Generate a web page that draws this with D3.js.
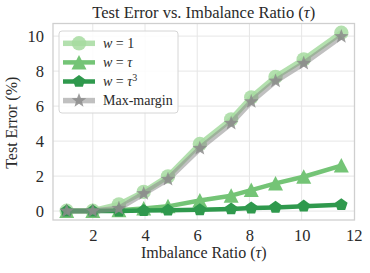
<!DOCTYPE html>
<html><head><meta charset="utf-8">
<script src="https://cdn.jsdelivr.net/npm/d3@7"></script>
<style>body{margin:0;background:#fff}svg{display:block}svg text{font-family:'Liberation Serif','DejaVu Serif',serif}</style>
</head><body><div id="chart"></div>
<script>
const tau = [1, 2, 3, 3.95, 4.88, 6.1, 7.3, 8.07, 9, 10.08, 11.52];
const errW1 = [0.02, 0.02, 0.38, 1.1, 1.98, 3.83, 5.24, 6.5, 7.67, 8.67, 10.19];
const errWTau = [0.0, 0.0, 0.05, 0.15, 0.27, 0.6, 0.88, 1.2, 1.58, 1.96, 2.6];
const errWTau3 = [0.0, 0.0, 0.0, 0.03, 0.05, 0.07, 0.12, 0.17, 0.21, 0.28, 0.36];
const errMaxMargin = [0.0, 0.0, 0.15, 1.0, 1.82, 3.58, 5.02, 6.25, 7.43, 8.44, 9.97];
const xTicks = [2, 4, 6, 8, 10, 12];
const yTicks = [0, 2, 4, 6, 8, 10];
const seriesNames = ["w1", "wtau", "wtau3", "mm"];

const FONT = "'Liberation Serif', 'DejaVu Serif', serif";
const W = 370, H = 273;
const svg = d3.select("#chart").append("svg").attr("width", W).attr("height", H)
  .style("font-family", FONT);

const L = 53, R = 354.5, T = 23.5, B = 220;
const x = d3.scaleLinear().domain([0.475, 12.025]).range([L, R]);
const y = d3.scaleLinear().domain([-0.51, 10.72]).range([B, T]);

// grid
const g = svg.append("g");
g.selectAll(".gx").data(xTicks.filter(t => x(t) < R - 1)).join("line")
  .attr("x1", d => x(d)).attr("x2", d => x(d)).attr("y1", T).attr("y2", B)
  .attr("stroke", "#e6e6e6").attr("stroke-width", 1);
g.selectAll(".gy").data(yTicks).join("line")
  .attr("x1", L).attr("x2", R).attr("y1", d => y(d)).attr("y2", d => y(d))
  .attr("stroke", "#e6e6e6").attr("stroke-width", 1);

// axes via d3 axis, styled without tick marks
const xAxis = svg.append("g").attr("transform", `translate(0,${B})`)
  .call(d3.axisBottom(x).tickValues(xTicks).tickSize(0).tickPadding(9).tickFormat(d3.format("d")))
  .attr("font-family", FONT).attr("font-size", 16.5);
xAxis.select(".domain").remove();
xAxis.selectAll("text").attr("fill", "#2a2a2a").style("font-family", FONT);
const yAxis = svg.append("g").attr("transform", `translate(${L},0)`)
  .call(d3.axisLeft(y).tickValues(yTicks).tickSize(0).tickPadding(9).tickFormat(d3.format("d")))
  .attr("font-family", FONT).attr("font-size", 16.5);
yAxis.select(".domain").remove();
yAxis.selectAll("text").attr("fill", "#2a2a2a").style("font-family", FONT);

// border
svg.append("rect").attr("x", L).attr("y", T).attr("width", R - L).attr("height", B - T)
  .attr("fill", "none").attr("stroke", "#cfcfcf").attr("stroke-width", 1.3);

// marker shapes
function poly(n, r, rot, inner) {
  const pts = [];
  const k = inner ? 2 * n : n;
  for (let i = 0; i < k; i++) {
    const a = rot + i * 2 * Math.PI / k;
    const rr = inner && i % 2 ? r * inner : r;
    pts.push([rr * Math.cos(a), rr * Math.sin(a)]);
  }
  return "M" + pts.map(p => p.join(",")).join("L") + "Z";
}
const shapes = {
  w1: d3.symbol(d3.symbolCircle, Math.PI * 7.2 * 7.2)(),
  wtau: "M0,-7.5L7.5,7L-7.5,7Z",
  wtau3: poly(5, 6.6, -Math.PI / 2),
  mm: poly(5, 7.6, -Math.PI / 2, 0.42)
};
const styles = {
  w1: {color: "#a6dba0", lw: 5.5, op: 0.85, mop: 0.85},
  wtau: {color: "#74c476", lw: 4.5, op: 1, mop: 1},
  wtau3: {color: "#2f994d", lw: 4.5, op: 1, mop: 1},
  mm: {color: "#8c8c8c", lw: 5.5, op: 0.55, mop: 0.85}
};
const dataBy = {w1: errW1, wtau: errWTau, wtau3: errWTau3, mm: errMaxMargin};
const line = d3.line().x(d => x(d[0])).y(d => y(d[1]));

seriesNames.forEach(k => {
  const pts = tau.map((t, i) => [t, dataBy[k][i]]);
  const s = styles[k];
  const gg = svg.append("g");
  gg.append("path").attr("d", line(pts)).attr("fill", "none")
    .attr("stroke", s.color).attr("stroke-width", s.lw).attr("stroke-opacity", s.op)
    .attr("stroke-linejoin", "round");
  gg.selectAll("path.m").data(pts).join("path").attr("class", "m")
    .attr("d", shapes[k]).attr("transform", d => `translate(${x(d[0])},${y(d[1])})`)
    .attr("fill", s.color).attr("fill-opacity", s.mop);
});

// title & labels
svg.append("text").attr("x", (L + R) / 2).attr("y", 18).attr("text-anchor", "middle")
  .attr("font-size", 16.5).attr("fill", "#2a2a2a")
  .html('Test Error vs. Imbalance Ratio (<tspan font-style="italic">τ</tspan>)');
svg.append("text").attr("x", (L + R) / 2).attr("y", 258).attr("text-anchor", "middle")
  .attr("font-size", 16).attr("fill", "#2a2a2a")
  .html('Imbalance Ratio (<tspan font-style="italic">τ</tspan>)');
svg.append("text").attr("transform", `translate(17,${(T + B) / 2 + 1}) rotate(-90)`)
  .attr("text-anchor", "middle").attr("font-size", 16).attr("fill", "#2a2a2a")
  .text("Test Error (%)");

// legend
const lg = svg.append("g");
lg.append("rect").attr("x", 59).attr("y", 31).attr("width", 119).attr("height", 82)
  .attr("rx", 3).attr("fill", "#fff").attr("fill-opacity", 0.85)
  .attr("stroke", "#d6d6d6").attr("stroke-width", 1);
const labels = {
  w1: '<tspan font-style="italic">w</tspan> = 1',
  wtau: '<tspan font-style="italic">w</tspan> = <tspan font-style="italic">τ</tspan>',
  wtau3: '<tspan font-style="italic">w</tspan> = <tspan font-style="italic">τ</tspan><tspan dy="-5" font-size="10">3</tspan>',
  mm: 'Max-margin'
};
seriesNames.forEach((k, i) => {
  const yy = 43.3 + i * 19.1;
  const s = styles[k];
  lg.append("line").attr("x1", 63).attr("x2", 95).attr("y1", yy).attr("y2", yy)
    .attr("stroke", s.color).attr("stroke-width", s.lw).attr("stroke-opacity", s.op);
  lg.append("path").attr("d", shapes[k]).attr("transform", `translate(79,${yy})`)
    .attr("fill", s.color).attr("fill-opacity", s.mop);
  lg.append("text").attr("x", 103).attr("y", yy + 4.5).attr("font-size", 14).attr("fill", "#2a2a2a")
    .html(labels[k]);
});
</script></body></html>
